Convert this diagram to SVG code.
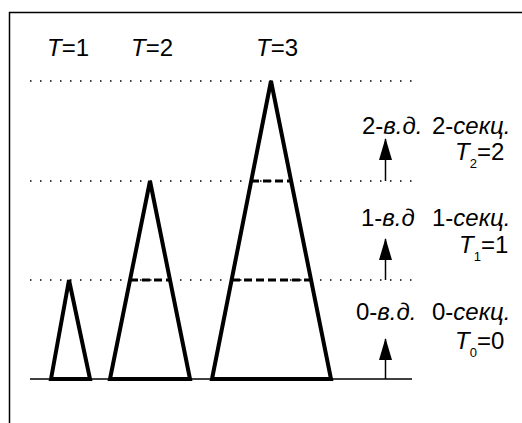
<svg xmlns="http://www.w3.org/2000/svg" width="522" height="423" viewBox="0 0 522 423">
<defs>
<style>
text{font-family:"Liberation Sans",Arial,sans-serif;font-size:24px;fill:#000}
.i{font-style:italic}
.sub{font-size:13px}
.tri{fill:none;stroke:#000;stroke-width:4;stroke-linejoin:miter}
.dot{stroke:#000;stroke-width:1.5;stroke-dasharray:1.5 8.5;fill:none}
.dash{stroke:#000;stroke-width:3;stroke-dasharray:8 4;fill:none}
.thin{stroke:#000;stroke-width:1.5;fill:none}
</style>
<marker id="ah" viewBox="0 0 22 13" refX="21" refY="6.5" markerWidth="22" markerHeight="13" markerUnits="userSpaceOnUse" orient="auto">
<path d="M0,0 L22,6.5 L0,13 Z" fill="#000"/>
</marker>
</defs>
<rect width="522" height="423" fill="#fff"/>
<g id="frame">
<path class="thin" d="M9.5,423 V12.5 H522"/>
</g>
<g id="connectors">
<path class="dot" d="M30,81 H412"/>
<path class="dot" d="M30,181 H412"/>
<path class="dot" d="M30,280 H412"/>
<path class="thin" d="M30,379 H412"/>
<path class="thin" d="M385.5,379 V339" marker-end="url(#ah)"/>
<path class="thin" d="M385.5,280 V239" marker-end="url(#ah)"/>
<path class="thin" d="M385.5,181 V139" marker-end="url(#ah)"/>
<path class="dash" d="M130,280 H170"/>
<path class="dash" d="M251,181 H291"/>
<path class="dash" d="M232,280 H311"/>
</g>
<g id="tri1"><path class="tri" d="M51,379 L69,280 L90,379 Z"/></g>
<g id="tri2"><path class="tri" d="M110,379 L150,181 L190,379 Z"/></g>
<g id="tri3"><path class="tri" d="M212,379 L271,81 L331,379 Z"/></g>
<g id="labels">
<text x="47" y="56"><tspan class="i">T</tspan>=1</text>
<text x="131" y="56"><tspan class="i">T</tspan>=2</text>
<text x="256" y="56"><tspan class="i">T</tspan>=3</text>
<text x="362" y="134">2-<tspan class="i">в.д.</tspan></text>
<text x="432" y="134">2-<tspan class="i">секц.</tspan></text>
<text x="455" y="160"><tspan class="i">T</tspan><tspan class="sub" dy="8">2</tspan><tspan dy="-8">=2</tspan></text>
<text x="361" y="226">1-<tspan class="i">в.д</tspan></text>
<text x="432" y="226">1-<tspan class="i">секц.</tspan></text>
<text x="459" y="253"><tspan class="i">T</tspan><tspan class="sub" dy="8">1</tspan><tspan dy="-8">=1</tspan></text>
<text x="356" y="320">0-<tspan class="i">в.д.</tspan></text>
<text x="432" y="320">0-<tspan class="i">секц.</tspan></text>
<text x="455" y="349"><tspan class="i">T</tspan><tspan class="sub" dy="8">0</tspan><tspan dy="-8">=0</tspan></text>
</g>
</svg>
